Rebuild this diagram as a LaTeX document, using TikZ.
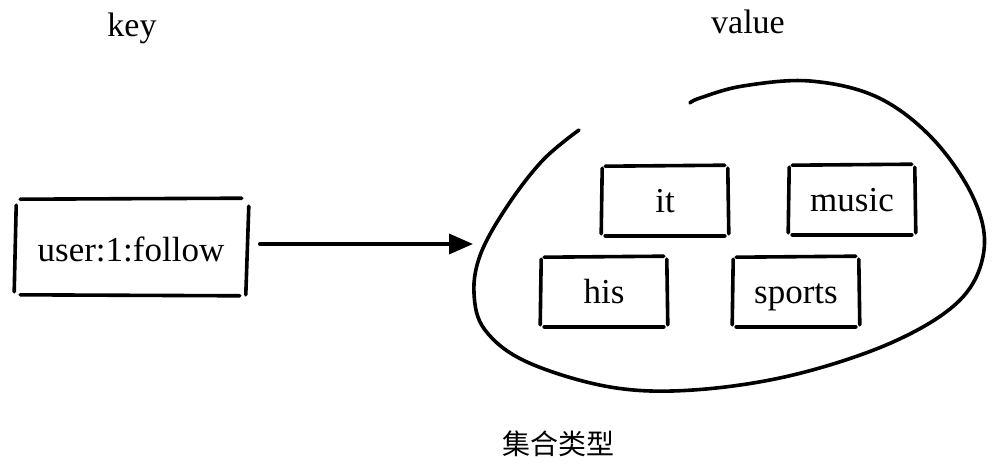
\documentclass[tikz,border=0pt]{standalone}
\usepackage{fontspec}
\setmainfont{Liberation Serif}
\newfontfamily\cjk{Noto Sans CJK SC}
\usetikzlibrary{arrows.meta}
\newcommand{\skbox}[1]{%
  \draw ([shift={(4,1)}]#1.north west) -- ([shift={(-4,0)}]#1.north east);
  \draw ([shift={(4,-1)}]#1.south west) -- ([shift={(-4,-1)}]#1.south east);
  \draw ([shift={(1,3)}]#1.north west) -- ([shift={(0,-3)}]#1.south west);
  \draw ([shift={(-1,3)}]#1.north east) -- ([shift={(0,-3)}]#1.south east);
}
\begin{document}
\begin{tikzpicture}[x=1pt,y=-1pt,line width=3.6pt,line cap=round,
  lbl/.style={inner sep=0pt,font=\fontsize{34}{40}\selectfont},
  member/.style={inner sep=0pt,minimum width=124pt,minimum height=68pt,text height=23pt,text depth=0pt,font=\fontsize{35}{40}\selectfont},
  keybox/.style={inner sep=0pt,minimum width=230pt,minimum height=96pt,text height=29pt,text depth=0pt,font=\fontsize{35}{40}\selectfont}]
\useasboundingbox (0,0) rectangle (997,466);
\node[lbl] (keylbl) at (132,28) {key};
\node[lbl] (vallbl) at (748,22) {value};
\node[keybox] (key) at (131,247) {user:1:follow};
\draw ([shift={(6,2)}]key.north west) -- ([shift={(-6,1)}]key.north east);
\draw ([shift={(6,-2)}]key.south west) -- ([shift={(-8,-1)}]key.south east);
\draw ([shift={(2,8)}]key.north west) -- ([shift={(0,-5)}]key.south west);
\draw ([shift={(1,9)}]key.north east) -- ([shift={(-2,-2)}]key.south east);
\coordinate (tip) at (473,244);
\draw[-{Triangle[length=24pt,width=20pt]}] ([xshift=12pt]key.east |- tip) -- (tip);
\draw plot[smooth,tension=0.6] coordinates {(579,130) (543,160) (508,205) (481,253) (474,293) (485,330) (527,362) (610,387) (693,390) (793,375) (893,342) (960,300) (984,250) (973,197) (932,138) (877,97) (810,81) (743,86) (700,98) (690,103)};
\node[member] (it) at (665,201) {it};
\node[member] (music) at (852,200) {music};
\node[member] (his) at (604,292) {his};
\node[member] (sports) at (796,292) {sports};
\skbox{it}\skbox{music}\skbox{his}\skbox{sports}
\node[inner sep=0pt,font=\cjk\fontsize{28}{32}\selectfont] (cap) at (558,444) {集合类型};
\end{tikzpicture}
\end{document}
